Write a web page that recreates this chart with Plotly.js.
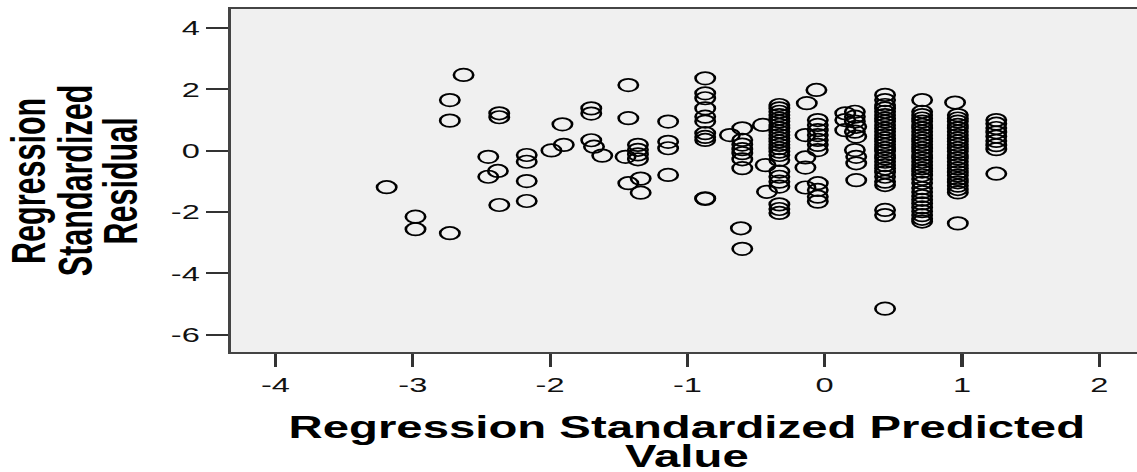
<!DOCTYPE html>
<html>
<head>
<meta charset="utf-8">
<script src="https://cdn.plot.ly/plotly-3.0.1.min.js"></script>
<style>
  html, body { margin: 0; padding: 0; background: #ffffff; overflow: hidden; width: 1137px; height: 472px; }
  #chart { width: 733px; height: 472px; transform: scaleX(1.55116); transform-origin: 0 0; }
</style>
</head>
<body>
<div id="chart"></div>
<script>
// Regression Standardized Predicted Value (x) vs Regression Standardized Residual (y)
const predictedX = [
  -3.19, -2.98, -2.98, -2.73, -2.63, -2.73, -2.73, -2.37, -2.37, -2.45,
  -2.38, -2.45, -2.37, -2.17, -2.17, -2.17, -2.17, -1.99, -1.90, -1.91,
  -1.70, -1.70, -1.70, -1.68, -1.62, -1.43, -1.43, -1.45, -1.36, -1.36,
  -1.36, -1.36, -1.43, -1.34, -1.34, -1.14, -1.14, -1.14, -1.14,
  -0.87, -0.87, -0.87, -0.87, -0.87, -0.87, -0.87, -0.87, -0.87, -0.87, -0.87,
  -0.69,
  -0.60, -0.60, -0.60, -0.60, -0.60, -0.60, -0.60, -0.61, -0.60,
  -0.45, -0.43, -0.42,
  -0.33, -0.33, -0.33, -0.33, -0.33, -0.33, -0.33, -0.33, -0.33, -0.33, -0.33, -0.33,
  -0.33, -0.33, -0.33, -0.33, -0.33, -0.33, -0.33, -0.33, -0.33, -0.33, -0.33, -0.33,
  -0.13, -0.06, -0.14, -0.14, -0.14, -0.14,
  -0.05, -0.05, -0.05, -0.05, -0.05, -0.05, -0.05, -0.05, -0.05, -0.05, -0.05,
  0.15, 0.15, 0.15,
  0.22, 0.22, 0.22, 0.23, 0.22, 0.23, 0.22, 0.23, 0.23, 0.23,
  0.44, 0.44, 0.44, 0.44, 0.44, 0.44, 0.44, 0.44, 0.44, 0.44, 0.44, 0.44, 0.44, 0.44, 0.44,
  0.44, 0.44, 0.44, 0.44, 0.44, 0.44, 0.44, 0.44, 0.44, 0.44, 0.44, 0.44, 0.44, 0.44,
  0.71, 0.71, 0.71, 0.71, 0.71, 0.71, 0.71, 0.71, 0.71, 0.71, 0.71, 0.71, 0.71, 0.71, 0.71,
  0.71, 0.71, 0.71, 0.71, 0.71, 0.71, 0.71, 0.71, 0.71, 0.71, 0.71, 0.71, 0.71, 0.71, 0.71,
  0.71, 0.71, 0.71,
  0.95, 0.97, 0.97, 0.97, 0.97, 0.97, 0.97, 0.97, 0.97, 0.97, 0.97, 0.97, 0.97, 0.97, 0.97,
  0.97, 0.97, 0.97, 0.97, 0.97, 0.97, 0.97, 0.97, 0.97, 0.97, 0.97,
  1.25, 1.25, 1.25, 1.25, 1.25, 1.25, 1.25, 1.25, 1.25
];
const residualY = [
  -1.19, -2.15, -2.56, -2.69, 2.47, 1.65, 0.98, 1.22, 1.09, -0.20,
  -0.66, -0.85, -1.77, -0.14, -0.36, -0.99, -1.64, 0.01, 0.19, 0.86,
  1.38, 1.21, 0.34, 0.13, -0.16, 2.14, 1.06, -0.20, 0.19, 0.03,
  -0.12, -0.28, -1.06, -0.91, -1.37, 0.95, 0.29, 0.08, -0.79,
  2.36, 1.87, 1.71, 1.38, 1.11, 0.95, 0.57, 0.45, 0.35, -1.55, -1.57,
  0.51,
  0.73, 0.35, 0.20, 0.05, -0.08, -0.28, -0.57, -2.53, -3.20,
  0.84, -0.47, -1.34,
  1.49, 1.38, 1.27, 1.16, 1.05, 0.95, 0.84, 0.73, 0.62, 0.51, 0.40, 0.30,
  0.19, 0.08, -0.03, -0.14, -0.30, -0.68, -0.85, -1.01, -1.17, -1.75, -1.90, -2.03,
  1.55, 1.98, 0.51, -0.22, -0.55, -1.20,
  1.00, 0.84, 0.67, 0.51, 0.35, 0.19, 0.02, -1.06, -1.28, -1.50, -1.66,
  1.22, 1.00, 0.67,
  1.27, 1.11, 0.95, 0.78, 0.62, 0.46, 0.02, -0.20, -0.41, -0.96,
  1.82, 1.65, 1.49, 1.38, 1.27, 1.16, 1.05, 0.95, 0.84, 0.72, 0.62, 0.51, 0.40, 0.30, 0.19,
  0.08, -0.02, -0.14, -0.25, -0.36, -0.47, -0.58, -0.70, -0.85, -1.01, -1.12, -1.93, -2.10, -5.15,
  1.65, 1.27, 1.16, 1.05, 0.95, 0.84, 0.73, 0.62, 0.51, 0.40, 0.30, 0.19, 0.08, -0.03, -0.14,
  -0.25, -0.36, -0.47, -0.58, -0.68, -0.80, -0.92, -1.05, -1.22, -1.35, -1.48, -1.60, -1.72, -1.85, -1.97,
  -2.10, -2.22, -2.31,
  1.57, 1.16, 1.05, 0.95, 0.84, 0.73, 0.62, 0.51, 0.40, 0.30, 0.19, 0.08, -0.03, -0.14, -0.25,
  -0.36, -0.47, -0.58, -0.70, -0.81, -0.92, -1.03, -1.14, -1.25, -1.36, -2.37,
  1.00, 0.88, 0.74, 0.60, 0.46, 0.32, 0.18, 0.05, -0.75
];

const xTickVals = [-4, -3, -2, -1, 0, 1, 2];
const xTickText = ['-4', '-3', '-2', '-1', '0', '1', '2'];
const yTickVals = [-6, -4, -2, 0, 2, 4];
const yTickText = ['-6', '-4', '-2', '0', '2', '4'];

const xTitleLines = ['Regression Standardized Predicted', 'Value'];
const yTitleLines = ['Regression', 'Standardized', 'Residual'];

const tickFont = { family: 'Liberation Sans, Arial, sans-serif', size: 21, color: '#111111' };
const titleFont = { family: 'Liberation Sans, Arial, sans-serif', size: 30.5, color: '#000000', weight: 700 };

const trace = {
  type: 'scatter',
  mode: 'markers',
  x: predictedX,
  y: residualY,
  marker: {
    symbol: 'circle-open',
    size: 12.5,
    color: '#000000',
    line: { width: 1.7, color: '#000000' }
  },
  hoverinfo: 'x+y',
  showlegend: false
};

const annotations = [
  { text: xTitleLines[0], xref: 'paper', yref: 'paper', x: 0.5038, y: -0.2195, xanchor: 'center', yanchor: 'middle', showarrow: false, font: titleFont },
  { text: xTitleLines[1], xref: 'paper', yref: 'paper', x: 0.5038, y: -0.303, xanchor: 'center', yanchor: 'middle', showarrow: false, font: titleFont },
  { text: yTitleLines[0], xref: 'paper', yref: 'paper', x: -0.2236, y: 0.5, xanchor: 'center', yanchor: 'middle', textangle: -90, showarrow: false, font: titleFont },
  { text: yTitleLines[1], xref: 'paper', yref: 'paper', x: -0.1735, y: 0.5, xanchor: 'center', yanchor: 'middle', textangle: -90, showarrow: false, font: titleFont },
  { text: yTitleLines[2], xref: 'paper', yref: 'paper', x: -0.1233, y: 0.5, xanchor: 'center', yanchor: 'middle', textangle: -90, showarrow: false, font: titleFont }
];

const layout = {
  width: 733,
  height: 472,
  margin: { l: 149, r: 0, t: 9, b: 120, pad: 0 },
  paper_bgcolor: '#ffffff',
  plot_bgcolor: '#f0f0f0',
  xaxis: {
    range: [-4.323, 2.275],
    tickmode: 'array',
    tickvals: xTickVals,
    ticktext: xTickText,
    ticks: 'outside',
    ticklen: 13,
    tickwidth: 2,
    tickcolor: '#333333',
    tickfont: tickFont,
    showgrid: false,
    zeroline: false,
    showline: true,
    linecolor: '#444444',
    linewidth: 2,
    mirror: true
  },
  yaxis: {
    range: [-6.563, 4.62],
    tickmode: 'array',
    tickvals: yTickVals,
    ticktext: yTickText,
    ticks: 'outside',
    ticklen: 14,
    tickwidth: 2,
    tickcolor: '#333333',
    tickfont: tickFont,
    showgrid: false,
    zeroline: false,
    showline: true,
    linecolor: '#444444',
    linewidth: 2,
    mirror: false
  },
  annotations: annotations,
  showlegend: false
};

Plotly.newPlot('chart', [trace], layout, { displayModeBar: false, staticPlot: true });
</script>
</body>
</html>
